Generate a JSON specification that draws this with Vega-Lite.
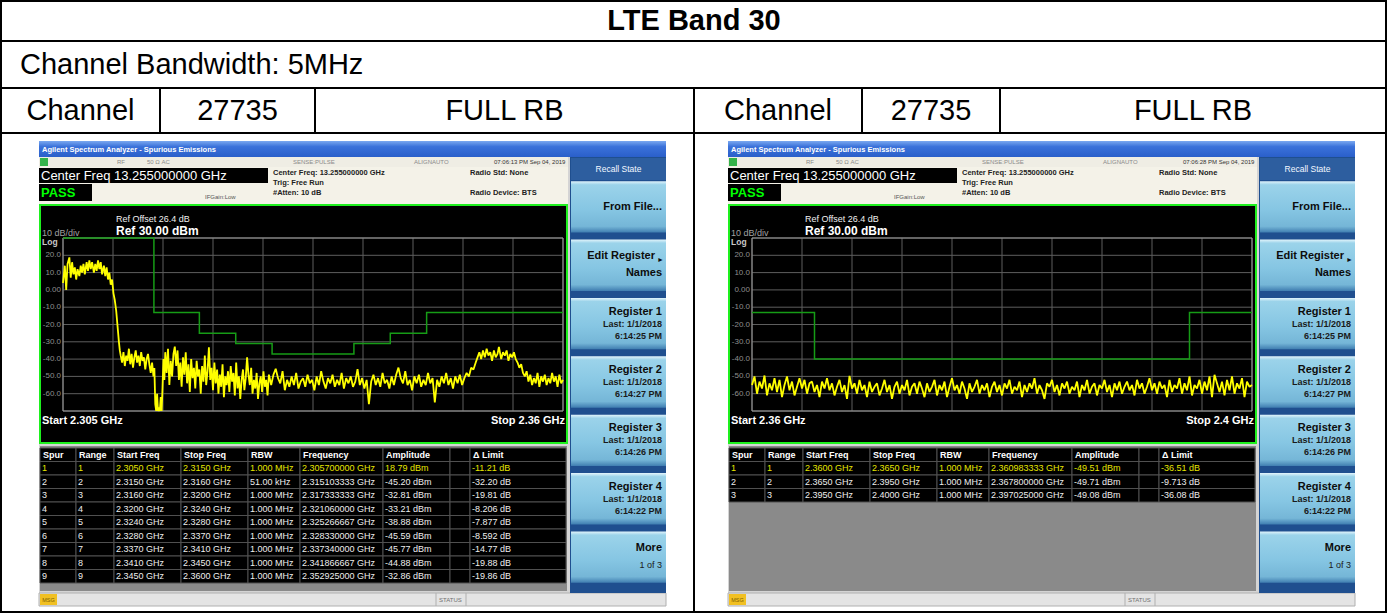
{
"$schema":"https://vega.github.io/schema/vega-lite/v6.json",
"width":1388,"height":613,"padding":0,"autosize":{"type":"none"},
"background":"#ffffff",
"config":{"view":{"stroke":null},"axis":{"disable":true},"legend":{"disable":true},"font":"Liberation Sans","text":{"font":"Liberation Sans"}},
"datasets":{
"docCells":[{"r0":0,"r1":1,"c0":0,"c1":6},{"r0":1,"r1":2,"c0":0,"c1":6},{"r0":2,"r1":3,"c0":0,"c1":1},{"r0":2,"r1":3,"c0":1,"c1":2},{"r0":2,"r1":3,"c0":2,"c1":3},{"r0":2,"r1":3,"c0":3,"c1":4},{"r0":2,"r1":3,"c0":4,"c1":5},{"r0":2,"r1":3,"c0":5,"c1":6},{"r0":3,"r1":4,"c0":0,"c1":3},{"r0":3,"r1":4,"c0":3,"c1":6}],
"docHdr":[{"cell":0,"text":"Channel"},{"cell":1,"text":"27735"},{"cell":2,"text":"FULL RB"},{"cell":3,"text":"Channel"},{"cell":4,"text":"27735"},{"cell":5,"text":"FULL RB"}],
"gridDb":[{"db":30},{"db":20},{"db":10},{"db":0},{"db":-10},{"db":-20},{"db":-30},{"db":-40},{"db":-50},{"db":-60},{"db":-70}],
"dbLabels":[{"db":20,"label":"20.0"},{"db":10,"label":"10.0"},{"db":0,"label":"0.00"},{"db":-10,"label":"-10.0"},{"db":-20,"label":"-20.0"},{"db":-30,"label":"-30.0"},{"db":-40,"label":"-40.0"},{"db":-50,"label":"-50.0"},{"db":-60,"label":"-60.0"}],
"gridFreqL":[{"f":2.305},{"f":2.3105},{"f":2.316},{"f":2.3215},{"f":2.327},{"f":2.3325},{"f":2.338},{"f":2.3435},{"f":2.349},{"f":2.3545},{"f":2.36}],
"gridFreqR":[{"f":2.36},{"f":2.364},{"f":2.368},{"f":2.372},{"f":2.376},{"f":2.38},{"f":2.384},{"f":2.388},{"f":2.392},{"f":2.396},{"f":2.4}],
"limitL":[{"f":2.305,"lim":30},{"f":2.315,"lim":-13},{"f":2.32,"lim":-25},{"f":2.324,"lim":-31},{"f":2.328,"lim":-37},{"f":2.337,"lim":-31},{"f":2.341,"lim":-25},{"f":2.345,"lim":-13},{"f":2.36,"lim":-13}],
"limitR":[{"f":2.36,"lim":-13},{"f":2.365,"lim":-40},{"f":2.395,"lim":-13},{"f":2.4,"lim":-13}],
"traceL":[{"f":2.305,"dbm":4},{"f":2.3052,"dbm":14},{"f":2.30535,"dbm":0},{"f":2.3055,"dbm":15},{"f":2.3057,"dbm":18.8},{"f":2.30585,"dbm":7},{"f":2.306,"dbm":16},{"f":2.30615,"dbm":9},{"f":2.3063,"dbm":13},{"f":2.30645,"dbm":6},{"f":2.3066,"dbm":12},{"f":2.3068,"dbm":8},{"f":2.30695,"dbm":14},{"f":2.3071,"dbm":10},{"f":2.30725,"dbm":15},{"f":2.3074,"dbm":9},{"f":2.3076,"dbm":16},{"f":2.30775,"dbm":11},{"f":2.3079,"dbm":17},{"f":2.30805,"dbm":12},{"f":2.3082,"dbm":16},{"f":2.3084,"dbm":10},{"f":2.30855,"dbm":15},{"f":2.3087,"dbm":11},{"f":2.30885,"dbm":17},{"f":2.309,"dbm":12},{"f":2.30915,"dbm":16},{"f":2.3093,"dbm":9},{"f":2.3095,"dbm":14},{"f":2.30965,"dbm":8},{"f":2.3098,"dbm":13},{"f":2.30995,"dbm":6},{"f":2.3101,"dbm":10},{"f":2.31025,"dbm":3},{"f":2.3104,"dbm":6},{"f":2.31055,"dbm":-2},{"f":2.3107,"dbm":-6},{"f":2.31085,"dbm":-12},{"f":2.31095,"dbm":-18},{"f":2.31105,"dbm":-24},{"f":2.31115,"dbm":-30},{"f":2.31125,"dbm":-35},{"f":2.31135,"dbm":-38},
{"f":2.3115,"dbm":-42},{"f":2.31165,"dbm":-36},{"f":2.3118,"dbm":-44},{"f":2.31195,"dbm":-38},{"f":2.3121,"dbm":-41},{"f":2.31225,"dbm":-34},{"f":2.3124,"dbm":-43},{"f":2.31255,"dbm":-37},{"f":2.3127,"dbm":-45},{"f":2.31285,"dbm":-39},{"f":2.313,"dbm":-35},{"f":2.31315,"dbm":-42},{"f":2.3133,"dbm":-38},{"f":2.31345,"dbm":-44},{"f":2.3136,"dbm":-36},{"f":2.31375,"dbm":-41},{"f":2.3139,"dbm":-39},{"f":2.31405,"dbm":-46},{"f":2.3142,"dbm":-40},{"f":2.31435,"dbm":-37},{"f":2.3145,"dbm":-43},{"f":2.31465,"dbm":-48},{"f":2.3148,"dbm":-42},
{"f":2.31495,"dbm":-50},{"f":2.31505,"dbm":-45.2},{"f":2.31515,"dbm":-66},{"f":2.31525,"dbm":-70},{"f":2.31535,"dbm":-60},{"f":2.31545,"dbm":-70},{"f":2.31555,"dbm":-68},{"f":2.31565,"dbm":-70},{"f":2.31575,"dbm":-62},{"f":2.31585,"dbm":-70},{"f":2.31595,"dbm":-56},
{"f":2.31605,"dbm":-40},{"f":2.31615,"dbm":-52},{"f":2.31625,"dbm":-36},{"f":2.3164,"dbm":-48},{"f":2.31655,"dbm":-34},{"f":2.3167,"dbm":-55},{"f":2.31685,"dbm":-41},{"f":2.317,"dbm":-50},{"f":2.31715,"dbm":-37},{"f":2.3173,"dbm":-32.8},{"f":2.31745,"dbm":-44},{"f":2.3176,"dbm":-35},{"f":2.31775,"dbm":-52},{"f":2.3179,"dbm":-42},{"f":2.31805,"dbm":-56},{"f":2.3182,"dbm":-39},{"f":2.31835,"dbm":-49},{"f":2.3185,"dbm":-36},{"f":2.31865,"dbm":-54},{"f":2.3188,"dbm":-43},{"f":2.31895,"dbm":-59},{"f":2.3191,"dbm":-40},{"f":2.31925,"dbm":-51},{"f":2.3194,"dbm":-45},{"f":2.31955,"dbm":-57},{"f":2.3197,"dbm":-41},{"f":2.31985,"dbm":-50},{"f":2.32,"dbm":-46},{"f":2.32015,"dbm":-60},{"f":2.3203,"dbm":-44},{"f":2.32045,"dbm":-53},{"f":2.3206,"dbm":-38},{"f":2.32075,"dbm":-55},{"f":2.3209,"dbm":-47},{"f":2.32105,"dbm":-33.2},{"f":2.3212,"dbm":-52},{"f":2.32135,"dbm":-45},{"f":2.3215,"dbm":-58},{"f":2.32165,"dbm":-42},
{"f":2.3218,"dbm":-54},{"f":2.32195,"dbm":-46},{"f":2.3221,"dbm":-60},{"f":2.32225,"dbm":-49},{"f":2.3224,"dbm":-56},{"f":2.32255,"dbm":-43},{"f":2.3227,"dbm":-62},{"f":2.32285,"dbm":-50},{"f":2.323,"dbm":-55},{"f":2.32315,"dbm":-47},{"f":2.3233,"dbm":-59},{"f":2.32345,"dbm":-44},{"f":2.3236,"dbm":-53},{"f":2.32375,"dbm":-48},{"f":2.3239,"dbm":-61},{"f":2.32405,"dbm":-42},{"f":2.3242,"dbm":-57},{"f":2.32435,"dbm":-50},{"f":2.3245,"dbm":-63},{"f":2.32465,"dbm":-52},{"f":2.3248,"dbm":-46},{"f":2.32495,"dbm":-58},{"f":2.3251,"dbm":-51},{"f":2.32525,"dbm":-38.9},{"f":2.3254,"dbm":-49},{"f":2.32555,"dbm":-55},{"f":2.3257,"dbm":-45},{"f":2.32585,"dbm":-60},{"f":2.326,"dbm":-52},{"f":2.32615,"dbm":-57},{"f":2.3263,"dbm":-48},{"f":2.32645,"dbm":-63},{"f":2.3266,"dbm":-54},{"f":2.32675,"dbm":-50},{"f":2.3269,"dbm":-59},{"f":2.32705,"dbm":-47},{"f":2.3272,"dbm":-56},{"f":2.32735,"dbm":-52},{"f":2.3275,"dbm":-61},{"f":2.32765,"dbm":-49},
{"f":2.3279,"dbm":-55},{"f":2.32815,"dbm":-49},{"f":2.3284,"dbm":-45.6},{"f":2.32865,"dbm":-51},{"f":2.3289,"dbm":-54},{"f":2.32915,"dbm":-47},{"f":2.3294,"dbm":-58},{"f":2.32965,"dbm":-52},{"f":2.3299,"dbm":-56},{"f":2.33015,"dbm":-50},{"f":2.3304,"dbm":-55},{"f":2.33065,"dbm":-48},{"f":2.3309,"dbm":-57},{"f":2.33115,"dbm":-53},{"f":2.3314,"dbm":-51},{"f":2.33165,"dbm":-56},{"f":2.3319,"dbm":-49},{"f":2.33215,"dbm":-54},{"f":2.3324,"dbm":-52},{"f":2.33265,"dbm":-58},{"f":2.3329,"dbm":-50},{"f":2.33315,"dbm":-55},{"f":2.3334,"dbm":-47},{"f":2.33365,"dbm":-53},{"f":2.3339,"dbm":-57},{"f":2.33415,"dbm":-51},{"f":2.3344,"dbm":-54},{"f":2.33465,"dbm":-49},{"f":2.3349,"dbm":-56},{"f":2.33515,"dbm":-52},{"f":2.3354,"dbm":-55},{"f":2.33565,"dbm":-48},{"f":2.3359,"dbm":-57},{"f":2.33615,"dbm":-51},{"f":2.3364,"dbm":-54},{"f":2.33665,"dbm":-50},{"f":2.3369,"dbm":-56},{"f":2.33715,"dbm":-53},{"f":2.3374,"dbm":-45.8},{"f":2.33765,"dbm":-55},{"f":2.3379,"dbm":-51},{"f":2.33815,"dbm":-57},{"f":2.3384,"dbm":-52},{"f":2.33865,"dbm":-66},{"f":2.3389,"dbm":-53},{"f":2.33915,"dbm":-49},{"f":2.3394,"dbm":-55},{"f":2.33965,"dbm":-51},{"f":2.3399,"dbm":-56},{"f":2.34015,"dbm":-48},{"f":2.3404,"dbm":-54},{"f":2.34065,"dbm":-52},{"f":2.3409,"dbm":-57},{"f":2.34115,"dbm":-50},{"f":2.3414,"dbm":-55},{"f":2.34165,"dbm":-49},{"f":2.3419,"dbm":-44.9},{"f":2.34215,"dbm":-51},{"f":2.3424,"dbm":-54},{"f":2.34265,"dbm":-47},{"f":2.3429,"dbm":-55},{"f":2.34315,"dbm":-52},{"f":2.3434,"dbm":-58},{"f":2.34365,"dbm":-50},{"f":2.3439,"dbm":-54},{"f":2.34415,"dbm":-49},{"f":2.3444,"dbm":-56},{"f":2.34465,"dbm":-52},{"f":2.3449,"dbm":-55},{"f":2.34515,"dbm":-48},{"f":2.3454,"dbm":-54},{"f":2.34565,"dbm":-51},{"f":2.3459,"dbm":-65},{"f":2.34615,"dbm":-52},{"f":2.3464,"dbm":-56},{"f":2.34665,"dbm":-50},{"f":2.3469,"dbm":-54},{"f":2.34715,"dbm":-48},{"f":2.3474,"dbm":-55},{"f":2.34765,"dbm":-51},{"f":2.3479,"dbm":-57},{"f":2.34815,"dbm":-50},{"f":2.3484,"dbm":-54},{"f":2.34865,"dbm":-49},{"f":2.3489,"dbm":-55},
{"f":2.34915,"dbm":-51},{"f":2.3494,"dbm":-48},{"f":2.34965,"dbm":-50},{"f":2.3499,"dbm":-45},{"f":2.35015,"dbm":-46},{"f":2.3504,"dbm":-42},{"f":2.3506,"dbm":-39},{"f":2.3508,"dbm":-36},{"f":2.351,"dbm":-40},{"f":2.3512,"dbm":-35},{"f":2.3514,"dbm":-39},{"f":2.3516,"dbm":-34},{"f":2.3518,"dbm":-38},{"f":2.352,"dbm":-36},{"f":2.3522,"dbm":-41},{"f":2.3524,"dbm":-35},{"f":2.3526,"dbm":-39},{"f":2.3528,"dbm":-37},{"f":2.35295,"dbm":-32.9},{"f":2.3532,"dbm":-40},{"f":2.3534,"dbm":-36},{"f":2.3536,"dbm":-38},{"f":2.3538,"dbm":-35},{"f":2.354,"dbm":-41},{"f":2.3542,"dbm":-37},{"f":2.3544,"dbm":-39},{"f":2.3546,"dbm":-36},{"f":2.3548,"dbm":-40},{"f":2.355,"dbm":-42},{"f":2.3552,"dbm":-45},{"f":2.3554,"dbm":-43},{"f":2.3556,"dbm":-48},{"f":2.3558,"dbm":-50},{"f":2.356,"dbm":-47},
{"f":2.3562,"dbm":-53},{"f":2.3564,"dbm":-49},{"f":2.3566,"dbm":-55},{"f":2.3568,"dbm":-51},{"f":2.357,"dbm":-54},{"f":2.3572,"dbm":-48},{"f":2.3574,"dbm":-56},{"f":2.3576,"dbm":-50},{"f":2.3578,"dbm":-53},{"f":2.358,"dbm":-49},{"f":2.3582,"dbm":-55},{"f":2.3584,"dbm":-51},{"f":2.3586,"dbm":-54},{"f":2.3588,"dbm":-48},{"f":2.359,"dbm":-53},{"f":2.3592,"dbm":-50},{"f":2.3594,"dbm":-56},{"f":2.3596,"dbm":-49},{"f":2.3598,"dbm":-54},{"f":2.36,"dbm":-52}],
"traceR":[{"f":2.36,"dbm":-55},{"f":2.3602,"dbm":-50},{"f":2.3604,"dbm":-60},{"f":2.3606,"dbm":-53},{"f":2.3608,"dbm":-57},{"f":2.361,"dbm":-49.5},{"f":2.3612,"dbm":-61},{"f":2.3614,"dbm":-54},{"f":2.3616,"dbm":-58},{"f":2.3618,"dbm":-51},
{"f":2.362,"dbm":-59},{"f":2.3622,"dbm":-52},{"f":2.3624,"dbm":-62},{"f":2.3626,"dbm":-55},{"f":2.3628,"dbm":-50},{"f":2.363,"dbm":-58},{"f":2.3632,"dbm":-53},{"f":2.3634,"dbm":-61},{"f":2.3636,"dbm":-56},{"f":2.3638,"dbm":-51},
{"f":2.364,"dbm":-57},{"f":2.3642,"dbm":-52},{"f":2.3644,"dbm":-60},{"f":2.3646,"dbm":-54},{"f":2.3648,"dbm":-53},{"f":2.365,"dbm":-59},{"f":2.3652,"dbm":-55},{"f":2.3654,"dbm":-62},{"f":2.3656,"dbm":-53},{"f":2.3658,"dbm":-57},
{"f":2.366,"dbm":-51},{"f":2.3662,"dbm":-58},{"f":2.3664,"dbm":-54},{"f":2.3666,"dbm":-61},{"f":2.3668,"dbm":-56},{"f":2.367,"dbm":-52},{"f":2.3672,"dbm":-59},{"f":2.3674,"dbm":-55},{"f":2.3676,"dbm":-63},{"f":2.3678,"dbm":-49.7},
{"f":2.368,"dbm":-57},{"f":2.3682,"dbm":-54},{"f":2.3684,"dbm":-60},{"f":2.3686,"dbm":-52},{"f":2.3688,"dbm":-58},{"f":2.369,"dbm":-55},{"f":2.3692,"dbm":-62},{"f":2.3694,"dbm":-53},{"f":2.3696,"dbm":-59},{"f":2.3698,"dbm":-56},
{"f":2.37,"dbm":-54},{"f":2.3702,"dbm":-61},{"f":2.3704,"dbm":-57},{"f":2.3706,"dbm":-52},{"f":2.3708,"dbm":-59},{"f":2.371,"dbm":-55},{"f":2.3712,"dbm":-63},{"f":2.3714,"dbm":-56},{"f":2.3716,"dbm":-53},{"f":2.3718,"dbm":-60},
{"f":2.372,"dbm":-55},{"f":2.3722,"dbm":-58},{"f":2.3724,"dbm":-52},{"f":2.3726,"dbm":-61},{"f":2.3728,"dbm":-56},{"f":2.373,"dbm":-54},{"f":2.3732,"dbm":-60},{"f":2.3734,"dbm":-53},{"f":2.3736,"dbm":-57},{"f":2.3738,"dbm":-62},
{"f":2.374,"dbm":-54},{"f":2.3742,"dbm":-59},{"f":2.3744,"dbm":-56},{"f":2.3746,"dbm":-52},{"f":2.3748,"dbm":-61},{"f":2.375,"dbm":-55},{"f":2.3752,"dbm":-58},{"f":2.3754,"dbm":-53},{"f":2.3756,"dbm":-62},{"f":2.3758,"dbm":-56},
{"f":2.376,"dbm":-51},{"f":2.3762,"dbm":-58},{"f":2.3764,"dbm":-55},{"f":2.3766,"dbm":-60},{"f":2.3768,"dbm":-53},{"f":2.377,"dbm":-57},{"f":2.3772,"dbm":-63},{"f":2.3774,"dbm":-54},{"f":2.3776,"dbm":-59},{"f":2.3778,"dbm":-56},
{"f":2.378,"dbm":-52},{"f":2.3782,"dbm":-60},{"f":2.3784,"dbm":-55},{"f":2.3786,"dbm":-58},{"f":2.3788,"dbm":-54},{"f":2.379,"dbm":-62},{"f":2.3792,"dbm":-56},{"f":2.3794,"dbm":-53},{"f":2.3796,"dbm":-59},{"f":2.3798,"dbm":-55},
{"f":2.38,"dbm":-61},{"f":2.3802,"dbm":-54},{"f":2.3804,"dbm":-57},{"f":2.3806,"dbm":-52},{"f":2.3808,"dbm":-60},{"f":2.381,"dbm":-56},{"f":2.3812,"dbm":-58},{"f":2.3814,"dbm":-53},{"f":2.3816,"dbm":-62},{"f":2.3818,"dbm":-55},
{"f":2.382,"dbm":-59},{"f":2.3822,"dbm":-54},{"f":2.3824,"dbm":-57},{"f":2.3826,"dbm":-51},{"f":2.3828,"dbm":-60},{"f":2.383,"dbm":-55},{"f":2.3832,"dbm":-58},{"f":2.3834,"dbm":-63},{"f":2.3836,"dbm":-54},{"f":2.3838,"dbm":-56},
{"f":2.384,"dbm":-52},{"f":2.3842,"dbm":-59},{"f":2.3844,"dbm":-55},{"f":2.3846,"dbm":-61},{"f":2.3848,"dbm":-54},{"f":2.385,"dbm":-57},{"f":2.3852,"dbm":-53},{"f":2.3854,"dbm":-60},{"f":2.3856,"dbm":-56},{"f":2.3858,"dbm":-58},
{"f":2.386,"dbm":-53},{"f":2.3862,"dbm":-62},{"f":2.3864,"dbm":-55},{"f":2.3866,"dbm":-58},{"f":2.3868,"dbm":-52},{"f":2.387,"dbm":-60},{"f":2.3872,"dbm":-56},{"f":2.3874,"dbm":-54},{"f":2.3876,"dbm":-61},{"f":2.3878,"dbm":-55},
{"f":2.388,"dbm":-57},{"f":2.3882,"dbm":-52},{"f":2.3884,"dbm":-59},{"f":2.3886,"dbm":-55},{"f":2.3888,"dbm":-62},{"f":2.389,"dbm":-54},{"f":2.3892,"dbm":-58},{"f":2.3894,"dbm":-53},{"f":2.3896,"dbm":-60},{"f":2.3898,"dbm":-56},
{"f":2.39,"dbm":-53},{"f":2.3902,"dbm":-58},{"f":2.3904,"dbm":-55},{"f":2.3906,"dbm":-61},{"f":2.3908,"dbm":-52},{"f":2.391,"dbm":-57},{"f":2.3912,"dbm":-54},{"f":2.3914,"dbm":-60},{"f":2.3916,"dbm":-56},{"f":2.3918,"dbm":-51},
{"f":2.392,"dbm":-58},{"f":2.3922,"dbm":-54},{"f":2.3924,"dbm":-60},{"f":2.3926,"dbm":-53},{"f":2.3928,"dbm":-57},{"f":2.393,"dbm":-55},{"f":2.3932,"dbm":-62},{"f":2.3934,"dbm":-52},{"f":2.3936,"dbm":-59},{"f":2.3938,"dbm":-55},
{"f":2.394,"dbm":-57},{"f":2.3942,"dbm":-51},{"f":2.3944,"dbm":-60},{"f":2.3946,"dbm":-54},{"f":2.3948,"dbm":-58},{"f":2.395,"dbm":-50},{"f":2.3952,"dbm":-61},{"f":2.3954,"dbm":-55},{"f":2.3956,"dbm":-57},{"f":2.3958,"dbm":-52},
{"f":2.396,"dbm":-60},{"f":2.3962,"dbm":-53},{"f":2.3964,"dbm":-58},{"f":2.3966,"dbm":-50},{"f":2.3968,"dbm":-62},{"f":2.397,"dbm":-49.1},{"f":2.3972,"dbm":-54},{"f":2.3974,"dbm":-59},{"f":2.3976,"dbm":-53},{"f":2.3978,"dbm":-61},
{"f":2.398,"dbm":-52},{"f":2.3982,"dbm":-58},{"f":2.3984,"dbm":-50},{"f":2.3986,"dbm":-60},{"f":2.3988,"dbm":-54},{"f":2.399,"dbm":-57},{"f":2.3992,"dbm":-51},{"f":2.3994,"dbm":-62},{"f":2.3996,"dbm":-53},{"f":2.3998,"dbm":-56},{"f":2.4,"dbm":-55}],
"columns":[{"row":"hdr","col":"Spur","label":"Spur","i0":0,"i1":1},{"row":"hdr","col":"Range","label":"Range","i0":1,"i1":2},{"row":"hdr","col":"Start Freq","label":"Start Freq","i0":2,"i1":3},{"row":"hdr","col":"Stop Freq","label":"Stop Freq","i0":3,"i1":4},{"row":"hdr","col":"RBW","label":"RBW","i0":4,"i1":5},{"row":"hdr","col":"Frequency","label":"Frequency","i0":5,"i1":6},{"row":"hdr","col":"Amplitude","label":"Amplitude","i0":6,"i1":7},{"row":"hdr","col":"Blank","label":"","i0":7,"i1":8},{"row":"hdr","col":"Δ Limit","label":"Δ Limit","i0":8,"i1":9}],
"spursL":[
{"Spur":"1","Range":"1","Start Freq":"2.3050 GHz","Stop Freq":"2.3150 GHz","RBW":"1.000 MHz","Frequency":"2.305700000 GHz","Amplitude":"18.79 dBm","Blank":"","Δ Limit":"-11.21 dB"},
{"Spur":"2","Range":"2","Start Freq":"2.3150 GHz","Stop Freq":"2.3160 GHz","RBW":"51.00 kHz","Frequency":"2.315103333 GHz","Amplitude":"-45.20 dBm","Blank":"","Δ Limit":"-32.20 dB"},
{"Spur":"3","Range":"3","Start Freq":"2.3160 GHz","Stop Freq":"2.3200 GHz","RBW":"1.000 MHz","Frequency":"2.317333333 GHz","Amplitude":"-32.81 dBm","Blank":"","Δ Limit":"-19.81 dB"},
{"Spur":"4","Range":"4","Start Freq":"2.3200 GHz","Stop Freq":"2.3240 GHz","RBW":"1.000 MHz","Frequency":"2.321060000 GHz","Amplitude":"-33.21 dBm","Blank":"","Δ Limit":"-8.206 dB"},
{"Spur":"5","Range":"5","Start Freq":"2.3240 GHz","Stop Freq":"2.3280 GHz","RBW":"1.000 MHz","Frequency":"2.325266667 GHz","Amplitude":"-38.88 dBm","Blank":"","Δ Limit":"-7.877 dB"},
{"Spur":"6","Range":"6","Start Freq":"2.3280 GHz","Stop Freq":"2.3370 GHz","RBW":"1.000 MHz","Frequency":"2.328330000 GHz","Amplitude":"-45.59 dBm","Blank":"","Δ Limit":"-8.592 dB"},
{"Spur":"7","Range":"7","Start Freq":"2.3370 GHz","Stop Freq":"2.3410 GHz","RBW":"1.000 MHz","Frequency":"2.337340000 GHz","Amplitude":"-45.77 dBm","Blank":"","Δ Limit":"-14.77 dB"},
{"Spur":"8","Range":"8","Start Freq":"2.3410 GHz","Stop Freq":"2.3450 GHz","RBW":"1.000 MHz","Frequency":"2.341866667 GHz","Amplitude":"-44.88 dBm","Blank":"","Δ Limit":"-19.88 dB"},
{"Spur":"9","Range":"9","Start Freq":"2.3450 GHz","Stop Freq":"2.3600 GHz","RBW":"1.000 MHz","Frequency":"2.352925000 GHz","Amplitude":"-32.86 dBm","Blank":"","Δ Limit":"-19.86 dB"}],
"spursR":[
{"Spur":"1","Range":"1","Start Freq":"2.3600 GHz","Stop Freq":"2.3650 GHz","RBW":"1.000 MHz","Frequency":"2.360983333 GHz","Amplitude":"-49.51 dBm","Blank":"","Δ Limit":"-36.51 dB"},
{"Spur":"2","Range":"2","Start Freq":"2.3650 GHz","Stop Freq":"2.3950 GHz","RBW":"1.000 MHz","Frequency":"2.367800000 GHz","Amplitude":"-49.71 dBm","Blank":"","Δ Limit":"-9.713 dB"},
{"Spur":"3","Range":"3","Start Freq":"2.3950 GHz","Stop Freq":"2.4000 GHz","RBW":"1.000 MHz","Frequency":"2.397025000 GHz","Amplitude":"-49.08 dBm","Blank":"","Δ Limit":"-36.08 dB"}],
"buttons":[{"btn":"From File..."},{"btn":"Edit Register Names"},{"btn":"Register 1"},{"btn":"Register 2"},{"btn":"Register 3"},{"btn":"Register 4"},{"btn":"More"}]
},
"resolve":{"scale":{"x":"independent","y":"independent"}},
"layer":[
{"layer":[
 {"data":{"name":"docCells"},"mark":{"type":"rect","fill":"transparent","stroke":"#000000","strokeWidth":2},
  "encoding":{"x":{"field":"c0","type":"quantitative","scale":{"domain":[0,1,2,3,4,5,6],"range":[1,160,315,694,862,1000,1386]}},"x2":{"field":"c1"},"y":{"field":"r0","type":"quantitative","scale":{"domain":[0,1,2,3,4],"range":[1,41,88,133,612]}},"y2":{"field":"r1"}}},
 {"data":{"values":[{"t":"LTE Band 30"}]},"mark":{"type":"text","fontSize":29,"fontWeight":"bold","color":"#000000","baseline":"middle","align":"center"},
  "encoding":{"x":{"datum":3,"type":"quantitative","scale":{"domain":[0,1,2,3,4,5,6],"range":[1,160,315,694,862,1000,1386]}},"y":{"datum":0.5,"type":"quantitative","scale":{"domain":[0,1,2,3,4],"range":[1,41,88,133,612]}},"text":{"field":"t"}}},
 {"data":{"values":[{"t":"Channel Bandwidth: 5MHz"}]},"mark":{"type":"text","fontSize":29,"color":"#000000","baseline":"middle","align":"left","dx":19},
  "encoding":{"x":{"datum":0,"type":"quantitative","scale":{"domain":[0,1,2,3,4,5,6],"range":[1,160,315,694,862,1000,1386]}},"y":{"datum":1.5,"type":"quantitative","scale":{"domain":[0,1,2,3,4],"range":[1,41,88,133,612]}},"text":{"field":"t"}}}
]},
{"data":{"name":"docHdr"},"mark":{"type":"text","fontSize":29,"color":"#000000","baseline":"middle","align":"center"},
 "encoding":{"x":{"field":"cell","type":"quantitative","scale":{"domain":[0,1,2,3,4,5],"range":[80.5,237.5,504.5,778,931,1193]}},"y":{"datum":0.5,"type":"quantitative","scale":{"domain":[0,1],"range":[88,133]}},"text":{"field":"text"}}},

{"layer":[
 {"data":{"values":[{}]},"mark":{"type":"rect","fill":"#d4d4d4"},"encoding":{"x":{"datum":0,"type":"quantitative","scale":{"domain":[0,627],"range":[39,666]}},"x2":{"datum":627},"y":{"datum":0,"type":"quantitative","scale":{"domain":[0,465],"range":[141,606]}},"y2":{"datum":465}}},
 {"data":{"values":[{}]},"mark":{"type":"rect","fill":{"gradient":"linear","x1":0,"y1":0,"x2":0,"y2":1,"stops":[{"offset":0,"color":"#7aa8f0"},{"offset":0.35,"color":"#3b72da"},{"offset":1,"color":"#2a5fca"}]}},"encoding":{"x":{"datum":0,"type":"quantitative","scale":{"domain":[0,627],"range":[39,666]}},"x2":{"datum":627},"y":{"datum":0,"type":"quantitative","scale":{"domain":[0,465],"range":[141,606]}},"y2":{"datum":16}}},
 {"data":{"values":[{"t":"Agilent Spectrum Analyzer - Spurious Emissions"}]},"mark":{"type":"text","align":"left","baseline":"middle","fontSize":7.5,"fontWeight":"bold","color":"#ffffff"},"encoding":{"x":{"datum":3,"type":"quantitative","scale":{"domain":[0,627],"range":[39,666]}},"y":{"datum":8.5,"type":"quantitative","scale":{"domain":[0,465],"range":[141,606]}},"text":{"field":"t"}}},
 {"data":{"values":[{}]},"mark":{"type":"rect","fill":"#efede4"},"encoding":{"x":{"datum":0,"type":"quantitative","scale":{"domain":[0,627],"range":[39,666]}},"x2":{"datum":529},"y":{"datum":16,"type":"quantitative","scale":{"domain":[0,465],"range":[141,606]}},"y2":{"datum":26}}},
 {"data":{"values":[{}]},"mark":{"type":"rect","fill":"#34b34a"},"encoding":{"x":{"datum":1,"type":"quantitative","scale":{"domain":[0,627],"range":[39,666]}},"x2":{"datum":9},"y":{"datum":17,"type":"quantitative","scale":{"domain":[0,465],"range":[141,606]}},"y2":{"datum":25}}},
 {"data":{"values":[{"t":"RF"}]},"mark":{"type":"text","align":"left","baseline":"middle","fontSize":6,"color":"#8a8a8a"},"encoding":{"x":{"datum":78,"type":"quantitative","scale":{"domain":[0,627],"range":[39,666]}},"y":{"datum":21,"type":"quantitative","scale":{"domain":[0,465],"range":[141,606]}},"text":{"field":"t"}}},
 {"data":{"values":[{"t":"50 Ω      AC"}]},"mark":{"type":"text","align":"left","baseline":"middle","fontSize":6,"color":"#8a8a8a"},"encoding":{"x":{"datum":108,"type":"quantitative","scale":{"domain":[0,627],"range":[39,666]}},"y":{"datum":21,"type":"quantitative","scale":{"domain":[0,465],"range":[141,606]}},"text":{"field":"t"}}},
 {"data":{"values":[{"t":"SENSE:PULSE"}]},"mark":{"type":"text","align":"left","baseline":"middle","fontSize":6,"color":"#8a8a8a"},"encoding":{"x":{"datum":254,"type":"quantitative","scale":{"domain":[0,627],"range":[39,666]}},"y":{"datum":21,"type":"quantitative","scale":{"domain":[0,465],"range":[141,606]}},"text":{"field":"t"}}},
 {"data":{"values":[{"t":"ALIGNAUTO"}]},"mark":{"type":"text","align":"left","baseline":"middle","fontSize":6,"color":"#8a8a8a"},"encoding":{"x":{"datum":375,"type":"quantitative","scale":{"domain":[0,627],"range":[39,666]}},"y":{"datum":21,"type":"quantitative","scale":{"domain":[0,465],"range":[141,606]}},"text":{"field":"t"}}},
 {"data":{"values":[{"t":"07:06:13 PM Sep 04, 2019"}]},"mark":{"type":"text","align":"left","baseline":"middle","fontSize":6,"color":"#333333"},"encoding":{"x":{"datum":455,"type":"quantitative","scale":{"domain":[0,627],"range":[39,666]}},"y":{"datum":21,"type":"quantitative","scale":{"domain":[0,465],"range":[141,606]}},"text":{"field":"t"}}},
 {"data":{"values":[{}]},"mark":{"type":"rect","fill":"#f4f2e8"},"encoding":{"x":{"datum":0,"type":"quantitative","scale":{"domain":[0,627],"range":[39,666]}},"x2":{"datum":529},"y":{"datum":26,"type":"quantitative","scale":{"domain":[0,465],"range":[141,606]}},"y2":{"datum":63}}},
 {"data":{"values":[{}]},"mark":{"type":"rect","fill":"#000000"},"encoding":{"x":{"datum":0,"type":"quantitative","scale":{"domain":[0,627],"range":[39,666]}},"x2":{"datum":229},"y":{"datum":27,"type":"quantitative","scale":{"domain":[0,465],"range":[141,606]}},"y2":{"datum":42}}},
 {"data":{"values":[{"t":"Center Freq 13.255000000 GHz"}]},"mark":{"type":"text","align":"left","baseline":"middle","fontSize":13,"color":"#ffffff"},"encoding":{"x":{"datum":2,"type":"quantitative","scale":{"domain":[0,627],"range":[39,666]}},"y":{"datum":34.5,"type":"quantitative","scale":{"domain":[0,465],"range":[141,606]}},"text":{"field":"t"}}},
 {"data":{"values":[{}]},"mark":{"type":"rect","fill":"#000000"},"encoding":{"x":{"datum":0,"type":"quantitative","scale":{"domain":[0,627],"range":[39,666]}},"x2":{"datum":53},"y":{"datum":43,"type":"quantitative","scale":{"domain":[0,465],"range":[141,606]}},"y2":{"datum":60}}},
 {"data":{"values":[{"t":"PASS"}]},"mark":{"type":"text","align":"left","baseline":"middle","fontSize":13,"fontWeight":"bold","color":"#00ff00"},"encoding":{"x":{"datum":2,"type":"quantitative","scale":{"domain":[0,627],"range":[39,666]}},"y":{"datum":51.5,"type":"quantitative","scale":{"domain":[0,465],"range":[141,606]}},"text":{"field":"t"}}},
 {"data":{"values":[{"t":"IFGain:Low"}]},"mark":{"type":"text","align":"left","baseline":"middle","fontSize":6,"color":"#555555"},"encoding":{"x":{"datum":166,"type":"quantitative","scale":{"domain":[0,627],"range":[39,666]}},"y":{"datum":56,"type":"quantitative","scale":{"domain":[0,465],"range":[141,606]}},"text":{"field":"t"}}},
 {"data":{"values":[{"t":"Center Freq: 13.255000000 GHz"}]},"mark":{"type":"text","align":"left","baseline":"middle","fontSize":7.5,"fontWeight":"bold","color":"#222222"},"encoding":{"x":{"datum":234,"type":"quantitative","scale":{"domain":[0,627],"range":[39,666]}},"y":{"datum":31.5,"type":"quantitative","scale":{"domain":[0,465],"range":[141,606]}},"text":{"field":"t"}}},
 {"data":{"values":[{"t":"Trig: Free Run"}]},"mark":{"type":"text","align":"left","baseline":"middle","fontSize":7.5,"fontWeight":"bold","color":"#222222"},"encoding":{"x":{"datum":234,"type":"quantitative","scale":{"domain":[0,627],"range":[39,666]}},"y":{"datum":41.5,"type":"quantitative","scale":{"domain":[0,465],"range":[141,606]}},"text":{"field":"t"}}},
 {"data":{"values":[{"t":"#Atten: 10 dB"}]},"mark":{"type":"text","align":"left","baseline":"middle","fontSize":7.5,"fontWeight":"bold","color":"#222222"},"encoding":{"x":{"datum":234,"type":"quantitative","scale":{"domain":[0,627],"range":[39,666]}},"y":{"datum":51.5,"type":"quantitative","scale":{"domain":[0,465],"range":[141,606]}},"text":{"field":"t"}}},
 {"data":{"values":[{"t":"Radio Std: None"}]},"mark":{"type":"text","align":"left","baseline":"middle","fontSize":7.5,"fontWeight":"bold","color":"#222222"},"encoding":{"x":{"datum":431,"type":"quantitative","scale":{"domain":[0,627],"range":[39,666]}},"y":{"datum":31.5,"type":"quantitative","scale":{"domain":[0,465],"range":[141,606]}},"text":{"field":"t"}}},
 {"data":{"values":[{"t":"Radio Device: BTS"}]},"mark":{"type":"text","align":"left","baseline":"middle","fontSize":7.5,"fontWeight":"bold","color":"#222222"},"encoding":{"x":{"datum":431,"type":"quantitative","scale":{"domain":[0,627],"range":[39,666]}},"y":{"datum":52,"type":"quantitative","scale":{"domain":[0,465],"range":[141,606]}},"text":{"field":"t"}}},
 {"data":{"values":[{}]},"mark":{"type":"rect","fill":"#000000","stroke":"#1ef01e","strokeWidth":2},"encoding":{"x":{"datum":1,"type":"quantitative","scale":{"domain":[0,627],"range":[39,666]}},"x2":{"datum":528},"y":{"datum":64,"type":"quantitative","scale":{"domain":[0,465],"range":[141,606]}},"y2":{"datum":302}}},
 {"data":{"values":[{"t":"Ref Offset 26.4 dB"}]},"mark":{"type":"text","align":"left","baseline":"middle","fontSize":9,"color":"#f0f0f0"},"encoding":{"x":{"datum":77,"type":"quantitative","scale":{"domain":[0,627],"range":[39,666]}},"y":{"datum":78,"type":"quantitative","scale":{"domain":[0,465],"range":[141,606]}},"text":{"field":"t"}}},
 {"data":{"values":[{"t":"Ref 30.00 dBm"}]},"mark":{"type":"text","align":"left","baseline":"middle","fontSize":12,"fontWeight":"bold","color":"#ffffff"},"encoding":{"x":{"datum":77,"type":"quantitative","scale":{"domain":[0,627],"range":[39,666]}},"y":{"datum":90,"type":"quantitative","scale":{"domain":[0,465],"range":[141,606]}},"text":{"field":"t"}}},
 {"data":{"values":[{"t":"10 dB/div"}]},"mark":{"type":"text","align":"left","baseline":"middle","fontSize":9,"color":"#a0a0a0"},"encoding":{"x":{"datum":3,"type":"quantitative","scale":{"domain":[0,627],"range":[39,666]}},"y":{"datum":92,"type":"quantitative","scale":{"domain":[0,465],"range":[141,606]}},"text":{"field":"t"}}},
 {"data":{"values":[{"t":"Log"}]},"mark":{"type":"text","align":"left","baseline":"middle","fontSize":8.5,"fontWeight":"bold","color":"#c8c8c8"},"encoding":{"x":{"datum":3,"type":"quantitative","scale":{"domain":[0,627],"range":[39,666]}},"y":{"datum":100.5,"type":"quantitative","scale":{"domain":[0,465],"range":[141,606]}},"text":{"field":"t"}}},
 {"data":{"values":[{"t":"Start  2.305 GHz"}]},"mark":{"type":"text","align":"left","baseline":"middle","fontSize":11,"fontWeight":"bold","color":"#ffffff"},"encoding":{"x":{"datum":3,"type":"quantitative","scale":{"domain":[0,627],"range":[39,666]}},"y":{"datum":280,"type":"quantitative","scale":{"domain":[0,465],"range":[141,606]}},"text":{"field":"t"}}},
 {"data":{"values":[{"t":"Stop 2.36 GHz"}]},"mark":{"type":"text","align":"right","baseline":"middle","fontSize":11,"fontWeight":"bold","color":"#ffffff"},"encoding":{"x":{"datum":526,"type":"quantitative","scale":{"domain":[0,627],"range":[39,666]}},"y":{"datum":280,"type":"quantitative","scale":{"domain":[0,465],"range":[141,606]}},"text":{"field":"t"}}},
 {"data":{"values":[{}]},"mark":{"type":"rect","fill":"#8a8a8a"},"encoding":{"x":{"datum":1,"type":"quantitative","scale":{"domain":[0,627],"range":[39,666]}},"x2":{"datum":528},"y":{"datum":305,"type":"quantitative","scale":{"domain":[0,465],"range":[141,606]}},"y2":{"datum":450}}},
 {"data":{"values":[{}]},"mark":{"type":"rect","fill":"#e4e4e4","stroke":"#b0b0b0","strokeWidth":1},"encoding":{"x":{"datum":0,"type":"quantitative","scale":{"domain":[0,627],"range":[39,666]}},"x2":{"datum":627},"y":{"datum":452,"type":"quantitative","scale":{"domain":[0,465],"range":[141,606]}},"y2":{"datum":465}}},
 {"data":{"values":[{}]},"mark":{"type":"rect","fill":"#f1c022"},"encoding":{"x":{"datum":1,"type":"quantitative","scale":{"domain":[0,627],"range":[39,666]}},"x2":{"datum":18},"y":{"datum":453,"type":"quantitative","scale":{"domain":[0,465],"range":[141,606]}},"y2":{"datum":464}}},
 {"data":{"values":[{"t":"MSG"}]},"mark":{"type":"text","align":"center","baseline":"middle","fontSize":5.5,"color":"#7d5f00"},"encoding":{"x":{"datum":9.5,"type":"quantitative","scale":{"domain":[0,627],"range":[39,666]}},"y":{"datum":458.5,"type":"quantitative","scale":{"domain":[0,465],"range":[141,606]}},"text":{"field":"t"}}},
 {"data":{"values":[{}]},"mark":{"type":"rule","color":"#b0b0b0"},"encoding":{"x":{"datum":397,"type":"quantitative","scale":{"domain":[0,627],"range":[39,666]}},"y":{"datum":452,"type":"quantitative","scale":{"domain":[0,465],"range":[141,606]}},"y2":{"datum":465}}},
 {"data":{"values":[{}]},"mark":{"type":"rule","color":"#b0b0b0"},"encoding":{"x":{"datum":427,"type":"quantitative","scale":{"domain":[0,627],"range":[39,666]}},"y":{"datum":452,"type":"quantitative","scale":{"domain":[0,465],"range":[141,606]}},"y2":{"datum":465}}},
 {"data":{"values":[{"t":"STATUS"}]},"mark":{"type":"text","align":"left","baseline":"middle","fontSize":6,"color":"#707070"},"encoding":{"x":{"datum":400,"type":"quantitative","scale":{"domain":[0,627],"range":[39,666]}},"y":{"datum":458.5,"type":"quantitative","scale":{"domain":[0,465],"range":[141,606]}},"text":{"field":"t"}}},
 {"data":{"values":[{}]},"mark":{"type":"rect","fill":"#1f4f8f"},"encoding":{"x":{"datum":531,"type":"quantitative","scale":{"domain":[0,627],"range":[39,666]}},"x2":{"datum":627},"y":{"datum":16,"type":"quantitative","scale":{"domain":[0,465],"range":[141,606]}},"y2":{"datum":452}}},
 {"data":{"values":[{}]},"mark":{"type":"rect","fill":"#2d5e9f"},"encoding":{"x":{"datum":532,"type":"quantitative","scale":{"domain":[0,627],"range":[39,666]}},"x2":{"datum":627},"y":{"datum":17,"type":"quantitative","scale":{"domain":[0,465],"range":[141,606]}},"y2":{"datum":39}}},
 {"data":{"values":[{"t":"Recall State"}]},"mark":{"type":"text","align":"center","baseline":"middle","fontSize":8.5,"color":"#f4f8ff"},"encoding":{"x":{"datum":579.5,"type":"quantitative","scale":{"domain":[0,627],"range":[39,666]}},"y":{"datum":28,"type":"quantitative","scale":{"domain":[0,465],"range":[141,606]}},"text":{"field":"t"}}}
]},

{"layer":[
 {"data":{"name":"gridFreqL"},"mark":{"type":"rule","color":"#5e5e5e","strokeWidth":1},"encoding":{"x":{"field":"f","type":"quantitative","scale":{"domain":[2.305,2.36],"range":[63,563]}},"y":{"datum":-70,"type":"quantitative","scale":{"domain":[-70,30],"range":[411,238]}},"y2":{"datum":30}}},
 {"data":{"name":"gridDb"},"mark":{"type":"rule","color":"#5e5e5e","strokeWidth":1},"encoding":{"y":{"field":"db","type":"quantitative","scale":{"domain":[-70,30],"range":[411,238]}},"x":{"datum":2.305,"type":"quantitative","scale":{"domain":[2.305,2.36],"range":[63,563]}},"x2":{"datum":2.36}}},
 {"data":{"values":[{}]},"mark":{"type":"rect","fill":"transparent","stroke":"#9a9a9a","strokeWidth":1},"encoding":{"x":{"datum":2.305,"type":"quantitative","scale":{"domain":[2.305,2.36],"range":[63,563]}},"x2":{"datum":2.36},"y":{"datum":-70,"type":"quantitative","scale":{"domain":[-70,30],"range":[411,238]}},"y2":{"datum":30}}},
 {"data":{"name":"dbLabels"},"mark":{"type":"text","align":"right","baseline":"middle","dx":-2,"fontSize":8,"color":"#8f8f8f"},"encoding":{"x":{"datum":2.305,"type":"quantitative","scale":{"domain":[2.305,2.36],"range":[63,563]}},"y":{"field":"db","type":"quantitative","scale":{"domain":[-70,30],"range":[411,238]}},"text":{"field":"label"}}},
 {"data":{"name":"limitL"},"mark":{"type":"line","interpolate":"step-after","color":"#169c16","strokeWidth":1.5},"encoding":{"x":{"field":"f","type":"quantitative","scale":{"domain":[2.305,2.36],"range":[63,563]}},"y":{"field":"lim","type":"quantitative","scale":{"domain":[-70,30],"range":[411,238]}}}},
 {"data":{"name":"traceL"},"mark":{"type":"line","color":"#ffff00","strokeWidth":1.8,"strokeJoin":"bevel"},"encoding":{"x":{"field":"f","type":"quantitative","scale":{"domain":[2.305,2.36],"range":[63,563]}},"y":{"field":"dbm","type":"quantitative","scale":{"domain":[-70,30],"range":[411,238]}}}}
]},

{"layer":[
 {"data":{"name":"columns"},"mark":{"type":"rect","fill":"#000000","stroke":"#505050","strokeWidth":1},"encoding":{"x":{"field":"i0","type":"quantitative","scale":{"domain":[0,1,2,3,4,5,6,7,8,9],"range":[40,76,114,181,248,300,383,450,470,566]}},"x2":{"field":"i1"},"y":{"field":"row","type":"ordinal","scale":{"type":"band","domain":["hdr","1","2","3","4","5","6","7","8","9"],"range":[448,583],"paddingInner":0,"paddingOuter":0}}}},
 {"data":{"name":"columns"},"mark":{"type":"text","align":"left","baseline":"middle","dx":3,"fontSize":9,"fontWeight":"bold","color":"#ffffff"},"encoding":{"x":{"field":"i0","type":"quantitative","scale":{"domain":[0,1,2,3,4,5,6,7,8,9],"range":[40,76,114,181,248,300,383,450,470,566]}},"y":{"field":"row","type":"ordinal","scale":{"type":"band","domain":["hdr","1","2","3","4","5","6","7","8","9"],"range":[448,583],"paddingInner":0,"paddingOuter":0}},"text":{"field":"label"}}},
 {"data":{"name":"spursL"},"transform":[{"fold":["Spur","Range","Start Freq","Stop Freq","RBW","Frequency","Amplitude","Blank","Δ Limit"],"as":["col","val"]},{"lookup":"col","from":{"data":{"name":"columns"},"key":"col","fields":["i0","i1"]}}],
  "mark":{"type":"rect","fill":"#000000","stroke":"#505050","strokeWidth":1},"encoding":{"x":{"field":"i0","type":"quantitative","scale":{"domain":[0,1,2,3,4,5,6,7,8,9],"range":[40,76,114,181,248,300,383,450,470,566]}},"x2":{"field":"i1"},"y":{"field":"Spur","type":"ordinal","scale":{"type":"band","domain":["hdr","1","2","3","4","5","6","7","8","9"],"range":[448,583],"paddingInner":0,"paddingOuter":0}}}},
 {"data":{"name":"spursL"},"transform":[{"fold":["Spur","Range","Start Freq","Stop Freq","RBW","Frequency","Amplitude","Blank","Δ Limit"],"as":["col","val"]},{"lookup":"col","from":{"data":{"name":"columns"},"key":"col","fields":["i0","i1"]}}],
  "mark":{"type":"text","align":"left","baseline":"middle","dx":2,"fontSize":9},"encoding":{"x":{"field":"i0","type":"quantitative","scale":{"domain":[0,1,2,3,4,5,6,7,8,9],"range":[40,76,114,181,248,300,383,450,470,566]}},"y":{"field":"Spur","type":"ordinal","scale":{"type":"band","domain":["hdr","1","2","3","4","5","6","7","8","9"],"range":[448,583],"paddingInner":0,"paddingOuter":0}},"text":{"field":"val"},"color":{"condition":{"test":"datum.Spur === '1'","value":"#e6e600"},"value":"#eeeeee"}}}
]},

{"layer":[
 {"data":{"name":"buttons"},"mark":{"type":"rect","fill":{"gradient":"linear","x1":0,"y1":0,"x2":0,"y2":1,"stops":[{"offset":0,"color":"#e2f4fb"},{"offset":0.07,"color":"#9bd3ea"},{"offset":0.55,"color":"#86c6e3"},{"offset":0.88,"color":"#75b6d7"},{"offset":1,"color":"#3f7db0"}]}},"encoding":{"x":{"datum":532,"type":"quantitative","scale":{"domain":[0,627],"range":[39,666]}},"x2":{"datum":627},"y":{"field":"btn","type":"nominal","scale":{"type":"band","domain":["From File...","Edit Register Names","Register 1","Register 2","Register 3","Register 4","More"],"range":[180,584],"paddingInner":0.12,"paddingOuter":0.02}}}},
 {"data":{"values":[{"btn":"From File...","t":"From File..."}]},"mark":{"type":"text","align":"right","baseline":"middle","fontSize":11,"fontWeight":"bold","color":"#0d0d0d"},"encoding":{"x":{"datum":623,"type":"quantitative","scale":{"domain":[0,627],"range":[39,666]}},"y":{"field":"btn","type":"nominal","scale":{"type":"band","domain":["From File...","Edit Register Names","Register 1","Register 2","Register 3","Register 4","More"],"range":[180,584],"paddingInner":0.12,"paddingOuter":0.02}},"text":{"field":"t"}}},
 {"data":{"values":[{"btn":"Edit Register Names","t":"Edit Register"}]},"mark":{"type":"text","align":"right","baseline":"middle","dy":-9,"fontSize":11,"fontWeight":"bold","color":"#0d0d0d"},"encoding":{"x":{"datum":616,"type":"quantitative","scale":{"domain":[0,627],"range":[39,666]}},"y":{"field":"btn","type":"nominal","scale":{"type":"band","domain":["From File...","Edit Register Names","Register 1","Register 2","Register 3","Register 4","More"],"range":[180,584],"paddingInner":0.12,"paddingOuter":0.02}},"text":{"field":"t"}}},
 {"data":{"values":[{"btn":"Edit Register Names","t":"►"}]},"mark":{"type":"text","align":"right","baseline":"middle","dy":-5,"fontSize":7,"color":"#0d0d0d"},"encoding":{"x":{"datum":625,"type":"quantitative","scale":{"domain":[0,627],"range":[39,666]}},"y":{"field":"btn","type":"nominal","scale":{"type":"band","domain":["From File...","Edit Register Names","Register 1","Register 2","Register 3","Register 4","More"],"range":[180,584],"paddingInner":0.12,"paddingOuter":0.02}},"text":{"field":"t"}}},
 {"data":{"values":[{"btn":"More","t":"More"}]},"mark":{"type":"text","align":"right","baseline":"middle","dy":-9,"fontSize":11,"fontWeight":"bold","color":"#0d0d0d"},"encoding":{"x":{"datum":623,"type":"quantitative","scale":{"domain":[0,627],"range":[39,666]}},"y":{"field":"btn","type":"nominal","scale":{"type":"band","domain":["From File...","Edit Register Names","Register 1","Register 2","Register 3","Register 4","More"],"range":[180,584],"paddingInner":0.12,"paddingOuter":0.02}},"text":{"field":"t"}}},
 {"data":{"values":[{"btn":"Edit Register Names","t":"Names"}]},"mark":{"type":"text","align":"right","baseline":"middle","dy":8,"fontSize":11,"fontWeight":"bold","color":"#0d0d0d"},"encoding":{"x":{"datum":623,"type":"quantitative","scale":{"domain":[0,627],"range":[39,666]}},"y":{"field":"btn","type":"nominal","scale":{"type":"band","domain":["From File...","Edit Register Names","Register 1","Register 2","Register 3","Register 4","More"],"range":[180,584],"paddingInner":0.12,"paddingOuter":0.02}},"text":{"field":"t"}}},
 {"data":{"values":[{"btn":"Register 1","t":"Register 1"},{"btn":"Register 2","t":"Register 2"},{"btn":"Register 3","t":"Register 3"},{"btn":"Register 4","t":"Register 4"}]},"mark":{"type":"text","align":"right","baseline":"middle","dy":-12,"fontSize":11,"fontWeight":"bold","color":"#0d0d0d"},"encoding":{"x":{"datum":623,"type":"quantitative","scale":{"domain":[0,627],"range":[39,666]}},"y":{"field":"btn","type":"nominal","scale":{"type":"band","domain":["From File...","Edit Register Names","Register 1","Register 2","Register 3","Register 4","More"],"range":[180,584],"paddingInner":0.12,"paddingOuter":0.02}},"text":{"field":"t"}}},
 {"data":{"values":[{"btn":"Register 1","t":"Last: 1/1/2018"},{"btn":"Register 2","t":"Last: 1/1/2018"},{"btn":"Register 3","t":"Last: 1/1/2018"},{"btn":"Register 4","t":"Last: 1/1/2018"}]},"mark":{"type":"text","align":"right","baseline":"middle","dy":0,"fontSize":9,"fontWeight":"bold","color":"#1a1a1a"},"encoding":{"x":{"datum":623,"type":"quantitative","scale":{"domain":[0,627],"range":[39,666]}},"y":{"field":"btn","type":"nominal","scale":{"type":"band","domain":["From File...","Edit Register Names","Register 1","Register 2","Register 3","Register 4","More"],"range":[180,584],"paddingInner":0.12,"paddingOuter":0.02}},"text":{"field":"t"}}},
 {"data":{"values":[{"btn":"Register 1","t":"6:14:25 PM"},{"btn":"Register 2","t":"6:14:27 PM"},{"btn":"Register 3","t":"6:14:26 PM"},{"btn":"Register 4","t":"6:14:22 PM"}]},"mark":{"type":"text","align":"right","baseline":"middle","dy":12,"fontSize":9,"fontWeight":"bold","color":"#1a1a1a"},"encoding":{"x":{"datum":623,"type":"quantitative","scale":{"domain":[0,627],"range":[39,666]}},"y":{"field":"btn","type":"nominal","scale":{"type":"band","domain":["From File...","Edit Register Names","Register 1","Register 2","Register 3","Register 4","More"],"range":[180,584],"paddingInner":0.12,"paddingOuter":0.02}},"text":{"field":"t"}}},
 {"data":{"values":[{"btn":"More","t":"1 of 3"}]},"mark":{"type":"text","align":"right","baseline":"middle","dy":8,"fontSize":9,"color":"#1a1a1a"},"encoding":{"x":{"datum":623,"type":"quantitative","scale":{"domain":[0,627],"range":[39,666]}},"y":{"field":"btn","type":"nominal","scale":{"type":"band","domain":["From File...","Edit Register Names","Register 1","Register 2","Register 3","Register 4","More"],"range":[180,584],"paddingInner":0.12,"paddingOuter":0.02}},"text":{"field":"t"}}}
]},

{"layer":[
 {"data":{"values":[{}]},"mark":{"type":"rect","fill":"#d4d4d4"},"encoding":{"x":{"datum":0,"type":"quantitative","scale":{"domain":[0,627],"range":[728,1355]}},"x2":{"datum":627},"y":{"datum":0,"type":"quantitative","scale":{"domain":[0,465],"range":[141,606]}},"y2":{"datum":465}}},
 {"data":{"values":[{}]},"mark":{"type":"rect","fill":{"gradient":"linear","x1":0,"y1":0,"x2":0,"y2":1,"stops":[{"offset":0,"color":"#7aa8f0"},{"offset":0.35,"color":"#3b72da"},{"offset":1,"color":"#2a5fca"}]}},"encoding":{"x":{"datum":0,"type":"quantitative","scale":{"domain":[0,627],"range":[728,1355]}},"x2":{"datum":627},"y":{"datum":0,"type":"quantitative","scale":{"domain":[0,465],"range":[141,606]}},"y2":{"datum":16}}},
 {"data":{"values":[{"t":"Agilent Spectrum Analyzer - Spurious Emissions"}]},"mark":{"type":"text","align":"left","baseline":"middle","fontSize":7.5,"fontWeight":"bold","color":"#ffffff"},"encoding":{"x":{"datum":3,"type":"quantitative","scale":{"domain":[0,627],"range":[728,1355]}},"y":{"datum":8.5,"type":"quantitative","scale":{"domain":[0,465],"range":[141,606]}},"text":{"field":"t"}}},
 {"data":{"values":[{}]},"mark":{"type":"rect","fill":"#efede4"},"encoding":{"x":{"datum":0,"type":"quantitative","scale":{"domain":[0,627],"range":[728,1355]}},"x2":{"datum":529},"y":{"datum":16,"type":"quantitative","scale":{"domain":[0,465],"range":[141,606]}},"y2":{"datum":26}}},
 {"data":{"values":[{}]},"mark":{"type":"rect","fill":"#34b34a"},"encoding":{"x":{"datum":1,"type":"quantitative","scale":{"domain":[0,627],"range":[728,1355]}},"x2":{"datum":9},"y":{"datum":17,"type":"quantitative","scale":{"domain":[0,465],"range":[141,606]}},"y2":{"datum":25}}},
 {"data":{"values":[{"t":"RF"}]},"mark":{"type":"text","align":"left","baseline":"middle","fontSize":6,"color":"#8a8a8a"},"encoding":{"x":{"datum":78,"type":"quantitative","scale":{"domain":[0,627],"range":[728,1355]}},"y":{"datum":21,"type":"quantitative","scale":{"domain":[0,465],"range":[141,606]}},"text":{"field":"t"}}},
 {"data":{"values":[{"t":"50 Ω      AC"}]},"mark":{"type":"text","align":"left","baseline":"middle","fontSize":6,"color":"#8a8a8a"},"encoding":{"x":{"datum":108,"type":"quantitative","scale":{"domain":[0,627],"range":[728,1355]}},"y":{"datum":21,"type":"quantitative","scale":{"domain":[0,465],"range":[141,606]}},"text":{"field":"t"}}},
 {"data":{"values":[{"t":"SENSE:PULSE"}]},"mark":{"type":"text","align":"left","baseline":"middle","fontSize":6,"color":"#8a8a8a"},"encoding":{"x":{"datum":254,"type":"quantitative","scale":{"domain":[0,627],"range":[728,1355]}},"y":{"datum":21,"type":"quantitative","scale":{"domain":[0,465],"range":[141,606]}},"text":{"field":"t"}}},
 {"data":{"values":[{"t":"ALIGNAUTO"}]},"mark":{"type":"text","align":"left","baseline":"middle","fontSize":6,"color":"#8a8a8a"},"encoding":{"x":{"datum":375,"type":"quantitative","scale":{"domain":[0,627],"range":[728,1355]}},"y":{"datum":21,"type":"quantitative","scale":{"domain":[0,465],"range":[141,606]}},"text":{"field":"t"}}},
 {"data":{"values":[{"t":"07:06:28 PM Sep 04, 2019"}]},"mark":{"type":"text","align":"left","baseline":"middle","fontSize":6,"color":"#333333"},"encoding":{"x":{"datum":455,"type":"quantitative","scale":{"domain":[0,627],"range":[728,1355]}},"y":{"datum":21,"type":"quantitative","scale":{"domain":[0,465],"range":[141,606]}},"text":{"field":"t"}}},
 {"data":{"values":[{}]},"mark":{"type":"rect","fill":"#f4f2e8"},"encoding":{"x":{"datum":0,"type":"quantitative","scale":{"domain":[0,627],"range":[728,1355]}},"x2":{"datum":529},"y":{"datum":26,"type":"quantitative","scale":{"domain":[0,465],"range":[141,606]}},"y2":{"datum":63}}},
 {"data":{"values":[{}]},"mark":{"type":"rect","fill":"#000000"},"encoding":{"x":{"datum":0,"type":"quantitative","scale":{"domain":[0,627],"range":[728,1355]}},"x2":{"datum":229},"y":{"datum":27,"type":"quantitative","scale":{"domain":[0,465],"range":[141,606]}},"y2":{"datum":42}}},
 {"data":{"values":[{"t":"Center Freq 13.255000000 GHz"}]},"mark":{"type":"text","align":"left","baseline":"middle","fontSize":13,"color":"#ffffff"},"encoding":{"x":{"datum":2,"type":"quantitative","scale":{"domain":[0,627],"range":[728,1355]}},"y":{"datum":34.5,"type":"quantitative","scale":{"domain":[0,465],"range":[141,606]}},"text":{"field":"t"}}},
 {"data":{"values":[{}]},"mark":{"type":"rect","fill":"#000000"},"encoding":{"x":{"datum":0,"type":"quantitative","scale":{"domain":[0,627],"range":[728,1355]}},"x2":{"datum":53},"y":{"datum":43,"type":"quantitative","scale":{"domain":[0,465],"range":[141,606]}},"y2":{"datum":60}}},
 {"data":{"values":[{"t":"PASS"}]},"mark":{"type":"text","align":"left","baseline":"middle","fontSize":13,"fontWeight":"bold","color":"#00ff00"},"encoding":{"x":{"datum":2,"type":"quantitative","scale":{"domain":[0,627],"range":[728,1355]}},"y":{"datum":51.5,"type":"quantitative","scale":{"domain":[0,465],"range":[141,606]}},"text":{"field":"t"}}},
 {"data":{"values":[{"t":"IFGain:Low"}]},"mark":{"type":"text","align":"left","baseline":"middle","fontSize":6,"color":"#555555"},"encoding":{"x":{"datum":166,"type":"quantitative","scale":{"domain":[0,627],"range":[728,1355]}},"y":{"datum":56,"type":"quantitative","scale":{"domain":[0,465],"range":[141,606]}},"text":{"field":"t"}}},
 {"data":{"values":[{"t":"Center Freq: 13.255000000 GHz"}]},"mark":{"type":"text","align":"left","baseline":"middle","fontSize":7.5,"fontWeight":"bold","color":"#222222"},"encoding":{"x":{"datum":234,"type":"quantitative","scale":{"domain":[0,627],"range":[728,1355]}},"y":{"datum":31.5,"type":"quantitative","scale":{"domain":[0,465],"range":[141,606]}},"text":{"field":"t"}}},
 {"data":{"values":[{"t":"Trig: Free Run"}]},"mark":{"type":"text","align":"left","baseline":"middle","fontSize":7.5,"fontWeight":"bold","color":"#222222"},"encoding":{"x":{"datum":234,"type":"quantitative","scale":{"domain":[0,627],"range":[728,1355]}},"y":{"datum":41.5,"type":"quantitative","scale":{"domain":[0,465],"range":[141,606]}},"text":{"field":"t"}}},
 {"data":{"values":[{"t":"#Atten: 10 dB"}]},"mark":{"type":"text","align":"left","baseline":"middle","fontSize":7.5,"fontWeight":"bold","color":"#222222"},"encoding":{"x":{"datum":234,"type":"quantitative","scale":{"domain":[0,627],"range":[728,1355]}},"y":{"datum":51.5,"type":"quantitative","scale":{"domain":[0,465],"range":[141,606]}},"text":{"field":"t"}}},
 {"data":{"values":[{"t":"Radio Std: None"}]},"mark":{"type":"text","align":"left","baseline":"middle","fontSize":7.5,"fontWeight":"bold","color":"#222222"},"encoding":{"x":{"datum":431,"type":"quantitative","scale":{"domain":[0,627],"range":[728,1355]}},"y":{"datum":31.5,"type":"quantitative","scale":{"domain":[0,465],"range":[141,606]}},"text":{"field":"t"}}},
 {"data":{"values":[{"t":"Radio Device: BTS"}]},"mark":{"type":"text","align":"left","baseline":"middle","fontSize":7.5,"fontWeight":"bold","color":"#222222"},"encoding":{"x":{"datum":431,"type":"quantitative","scale":{"domain":[0,627],"range":[728,1355]}},"y":{"datum":52,"type":"quantitative","scale":{"domain":[0,465],"range":[141,606]}},"text":{"field":"t"}}},
 {"data":{"values":[{}]},"mark":{"type":"rect","fill":"#000000","stroke":"#1ef01e","strokeWidth":2},"encoding":{"x":{"datum":1,"type":"quantitative","scale":{"domain":[0,627],"range":[728,1355]}},"x2":{"datum":528},"y":{"datum":64,"type":"quantitative","scale":{"domain":[0,465],"range":[141,606]}},"y2":{"datum":302}}},
 {"data":{"values":[{"t":"Ref Offset 26.4 dB"}]},"mark":{"type":"text","align":"left","baseline":"middle","fontSize":9,"color":"#f0f0f0"},"encoding":{"x":{"datum":77,"type":"quantitative","scale":{"domain":[0,627],"range":[728,1355]}},"y":{"datum":78,"type":"quantitative","scale":{"domain":[0,465],"range":[141,606]}},"text":{"field":"t"}}},
 {"data":{"values":[{"t":"Ref 30.00 dBm"}]},"mark":{"type":"text","align":"left","baseline":"middle","fontSize":12,"fontWeight":"bold","color":"#ffffff"},"encoding":{"x":{"datum":77,"type":"quantitative","scale":{"domain":[0,627],"range":[728,1355]}},"y":{"datum":90,"type":"quantitative","scale":{"domain":[0,465],"range":[141,606]}},"text":{"field":"t"}}},
 {"data":{"values":[{"t":"10 dB/div"}]},"mark":{"type":"text","align":"left","baseline":"middle","fontSize":9,"color":"#a0a0a0"},"encoding":{"x":{"datum":3,"type":"quantitative","scale":{"domain":[0,627],"range":[728,1355]}},"y":{"datum":92,"type":"quantitative","scale":{"domain":[0,465],"range":[141,606]}},"text":{"field":"t"}}},
 {"data":{"values":[{"t":"Log"}]},"mark":{"type":"text","align":"left","baseline":"middle","fontSize":8.5,"fontWeight":"bold","color":"#c8c8c8"},"encoding":{"x":{"datum":3,"type":"quantitative","scale":{"domain":[0,627],"range":[728,1355]}},"y":{"datum":100.5,"type":"quantitative","scale":{"domain":[0,465],"range":[141,606]}},"text":{"field":"t"}}},
 {"data":{"values":[{"t":"Start  2.36 GHz"}]},"mark":{"type":"text","align":"left","baseline":"middle","fontSize":11,"fontWeight":"bold","color":"#ffffff"},"encoding":{"x":{"datum":3,"type":"quantitative","scale":{"domain":[0,627],"range":[728,1355]}},"y":{"datum":280,"type":"quantitative","scale":{"domain":[0,465],"range":[141,606]}},"text":{"field":"t"}}},
 {"data":{"values":[{"t":"Stop 2.4 GHz"}]},"mark":{"type":"text","align":"right","baseline":"middle","fontSize":11,"fontWeight":"bold","color":"#ffffff"},"encoding":{"x":{"datum":526,"type":"quantitative","scale":{"domain":[0,627],"range":[728,1355]}},"y":{"datum":280,"type":"quantitative","scale":{"domain":[0,465],"range":[141,606]}},"text":{"field":"t"}}},
 {"data":{"values":[{}]},"mark":{"type":"rect","fill":"#8a8a8a"},"encoding":{"x":{"datum":1,"type":"quantitative","scale":{"domain":[0,627],"range":[728,1355]}},"x2":{"datum":528},"y":{"datum":305,"type":"quantitative","scale":{"domain":[0,465],"range":[141,606]}},"y2":{"datum":450}}},
 {"data":{"values":[{}]},"mark":{"type":"rect","fill":"#e4e4e4","stroke":"#b0b0b0","strokeWidth":1},"encoding":{"x":{"datum":0,"type":"quantitative","scale":{"domain":[0,627],"range":[728,1355]}},"x2":{"datum":627},"y":{"datum":452,"type":"quantitative","scale":{"domain":[0,465],"range":[141,606]}},"y2":{"datum":465}}},
 {"data":{"values":[{}]},"mark":{"type":"rect","fill":"#f1c022"},"encoding":{"x":{"datum":1,"type":"quantitative","scale":{"domain":[0,627],"range":[728,1355]}},"x2":{"datum":18},"y":{"datum":453,"type":"quantitative","scale":{"domain":[0,465],"range":[141,606]}},"y2":{"datum":464}}},
 {"data":{"values":[{"t":"MSG"}]},"mark":{"type":"text","align":"center","baseline":"middle","fontSize":5.5,"color":"#7d5f00"},"encoding":{"x":{"datum":9.5,"type":"quantitative","scale":{"domain":[0,627],"range":[728,1355]}},"y":{"datum":458.5,"type":"quantitative","scale":{"domain":[0,465],"range":[141,606]}},"text":{"field":"t"}}},
 {"data":{"values":[{}]},"mark":{"type":"rule","color":"#b0b0b0"},"encoding":{"x":{"datum":397,"type":"quantitative","scale":{"domain":[0,627],"range":[728,1355]}},"y":{"datum":452,"type":"quantitative","scale":{"domain":[0,465],"range":[141,606]}},"y2":{"datum":465}}},
 {"data":{"values":[{}]},"mark":{"type":"rule","color":"#b0b0b0"},"encoding":{"x":{"datum":427,"type":"quantitative","scale":{"domain":[0,627],"range":[728,1355]}},"y":{"datum":452,"type":"quantitative","scale":{"domain":[0,465],"range":[141,606]}},"y2":{"datum":465}}},
 {"data":{"values":[{"t":"STATUS"}]},"mark":{"type":"text","align":"left","baseline":"middle","fontSize":6,"color":"#707070"},"encoding":{"x":{"datum":400,"type":"quantitative","scale":{"domain":[0,627],"range":[728,1355]}},"y":{"datum":458.5,"type":"quantitative","scale":{"domain":[0,465],"range":[141,606]}},"text":{"field":"t"}}},
 {"data":{"values":[{}]},"mark":{"type":"rect","fill":"#1f4f8f"},"encoding":{"x":{"datum":531,"type":"quantitative","scale":{"domain":[0,627],"range":[728,1355]}},"x2":{"datum":627},"y":{"datum":16,"type":"quantitative","scale":{"domain":[0,465],"range":[141,606]}},"y2":{"datum":452}}},
 {"data":{"values":[{}]},"mark":{"type":"rect","fill":"#2d5e9f"},"encoding":{"x":{"datum":532,"type":"quantitative","scale":{"domain":[0,627],"range":[728,1355]}},"x2":{"datum":627},"y":{"datum":17,"type":"quantitative","scale":{"domain":[0,465],"range":[141,606]}},"y2":{"datum":39}}},
 {"data":{"values":[{"t":"Recall State"}]},"mark":{"type":"text","align":"center","baseline":"middle","fontSize":8.5,"color":"#f4f8ff"},"encoding":{"x":{"datum":579.5,"type":"quantitative","scale":{"domain":[0,627],"range":[728,1355]}},"y":{"datum":28,"type":"quantitative","scale":{"domain":[0,465],"range":[141,606]}},"text":{"field":"t"}}}
]},

{"layer":[
 {"data":{"name":"gridFreqR"},"mark":{"type":"rule","color":"#5e5e5e","strokeWidth":1},"encoding":{"x":{"field":"f","type":"quantitative","scale":{"domain":[2.36,2.4],"range":[752,1252]}},"y":{"datum":-70,"type":"quantitative","scale":{"domain":[-70,30],"range":[411,238]}},"y2":{"datum":30}}},
 {"data":{"name":"gridDb"},"mark":{"type":"rule","color":"#5e5e5e","strokeWidth":1},"encoding":{"y":{"field":"db","type":"quantitative","scale":{"domain":[-70,30],"range":[411,238]}},"x":{"datum":2.36,"type":"quantitative","scale":{"domain":[2.36,2.4],"range":[752,1252]}},"x2":{"datum":2.4}}},
 {"data":{"values":[{}]},"mark":{"type":"rect","fill":"transparent","stroke":"#9a9a9a","strokeWidth":1},"encoding":{"x":{"datum":2.36,"type":"quantitative","scale":{"domain":[2.36,2.4],"range":[752,1252]}},"x2":{"datum":2.4},"y":{"datum":-70,"type":"quantitative","scale":{"domain":[-70,30],"range":[411,238]}},"y2":{"datum":30}}},
 {"data":{"name":"dbLabels"},"mark":{"type":"text","align":"right","baseline":"middle","dx":-2,"fontSize":8,"color":"#8f8f8f"},"encoding":{"x":{"datum":2.36,"type":"quantitative","scale":{"domain":[2.36,2.4],"range":[752,1252]}},"y":{"field":"db","type":"quantitative","scale":{"domain":[-70,30],"range":[411,238]}},"text":{"field":"label"}}},
 {"data":{"name":"limitR"},"mark":{"type":"line","interpolate":"step-after","color":"#169c16","strokeWidth":1.5},"encoding":{"x":{"field":"f","type":"quantitative","scale":{"domain":[2.36,2.4],"range":[752,1252]}},"y":{"field":"lim","type":"quantitative","scale":{"domain":[-70,30],"range":[411,238]}}}},
 {"data":{"name":"traceR"},"mark":{"type":"line","color":"#ffff00","strokeWidth":1.8,"strokeJoin":"bevel"},"encoding":{"x":{"field":"f","type":"quantitative","scale":{"domain":[2.36,2.4],"range":[752,1252]}},"y":{"field":"dbm","type":"quantitative","scale":{"domain":[-70,30],"range":[411,238]}}}}
]},

{"layer":[
 {"data":{"name":"columns"},"mark":{"type":"rect","fill":"#000000","stroke":"#505050","strokeWidth":1},"encoding":{"x":{"field":"i0","type":"quantitative","scale":{"domain":[0,1,2,3,4,5,6,7,8,9],"range":[729,765,803,870,937,989,1072,1139,1159,1255]}},"x2":{"field":"i1"},"y":{"field":"row","type":"ordinal","scale":{"type":"band","domain":["hdr","1","2","3","4","5","6","7","8","9"],"range":[448,583],"paddingInner":0,"paddingOuter":0}}}},
 {"data":{"name":"columns"},"mark":{"type":"text","align":"left","baseline":"middle","dx":3,"fontSize":9,"fontWeight":"bold","color":"#ffffff"},"encoding":{"x":{"field":"i0","type":"quantitative","scale":{"domain":[0,1,2,3,4,5,6,7,8,9],"range":[729,765,803,870,937,989,1072,1139,1159,1255]}},"y":{"field":"row","type":"ordinal","scale":{"type":"band","domain":["hdr","1","2","3","4","5","6","7","8","9"],"range":[448,583],"paddingInner":0,"paddingOuter":0}},"text":{"field":"label"}}},
 {"data":{"name":"spursR"},"transform":[{"fold":["Spur","Range","Start Freq","Stop Freq","RBW","Frequency","Amplitude","Blank","Δ Limit"],"as":["col","val"]},{"lookup":"col","from":{"data":{"name":"columns"},"key":"col","fields":["i0","i1"]}}],
  "mark":{"type":"rect","fill":"#000000","stroke":"#505050","strokeWidth":1},"encoding":{"x":{"field":"i0","type":"quantitative","scale":{"domain":[0,1,2,3,4,5,6,7,8,9],"range":[729,765,803,870,937,989,1072,1139,1159,1255]}},"x2":{"field":"i1"},"y":{"field":"Spur","type":"ordinal","scale":{"type":"band","domain":["hdr","1","2","3","4","5","6","7","8","9"],"range":[448,583],"paddingInner":0,"paddingOuter":0}}}},
 {"data":{"name":"spursR"},"transform":[{"fold":["Spur","Range","Start Freq","Stop Freq","RBW","Frequency","Amplitude","Blank","Δ Limit"],"as":["col","val"]},{"lookup":"col","from":{"data":{"name":"columns"},"key":"col","fields":["i0","i1"]}}],
  "mark":{"type":"text","align":"left","baseline":"middle","dx":2,"fontSize":9},"encoding":{"x":{"field":"i0","type":"quantitative","scale":{"domain":[0,1,2,3,4,5,6,7,8,9],"range":[729,765,803,870,937,989,1072,1139,1159,1255]}},"y":{"field":"Spur","type":"ordinal","scale":{"type":"band","domain":["hdr","1","2","3","4","5","6","7","8","9"],"range":[448,583],"paddingInner":0,"paddingOuter":0}},"text":{"field":"val"},"color":{"condition":{"test":"datum.Spur === '1'","value":"#e6e600"},"value":"#eeeeee"}}}
]},

{"layer":[
 {"data":{"name":"buttons"},"mark":{"type":"rect","fill":{"gradient":"linear","x1":0,"y1":0,"x2":0,"y2":1,"stops":[{"offset":0,"color":"#e2f4fb"},{"offset":0.07,"color":"#9bd3ea"},{"offset":0.55,"color":"#86c6e3"},{"offset":0.88,"color":"#75b6d7"},{"offset":1,"color":"#3f7db0"}]}},"encoding":{"x":{"datum":532,"type":"quantitative","scale":{"domain":[0,627],"range":[728,1355]}},"x2":{"datum":627},"y":{"field":"btn","type":"nominal","scale":{"type":"band","domain":["From File...","Edit Register Names","Register 1","Register 2","Register 3","Register 4","More"],"range":[180,584],"paddingInner":0.12,"paddingOuter":0.02}}}},
 {"data":{"values":[{"btn":"From File...","t":"From File..."}]},"mark":{"type":"text","align":"right","baseline":"middle","fontSize":11,"fontWeight":"bold","color":"#0d0d0d"},"encoding":{"x":{"datum":623,"type":"quantitative","scale":{"domain":[0,627],"range":[728,1355]}},"y":{"field":"btn","type":"nominal","scale":{"type":"band","domain":["From File...","Edit Register Names","Register 1","Register 2","Register 3","Register 4","More"],"range":[180,584],"paddingInner":0.12,"paddingOuter":0.02}},"text":{"field":"t"}}},
 {"data":{"values":[{"btn":"Edit Register Names","t":"Edit Register"}]},"mark":{"type":"text","align":"right","baseline":"middle","dy":-9,"fontSize":11,"fontWeight":"bold","color":"#0d0d0d"},"encoding":{"x":{"datum":616,"type":"quantitative","scale":{"domain":[0,627],"range":[728,1355]}},"y":{"field":"btn","type":"nominal","scale":{"type":"band","domain":["From File...","Edit Register Names","Register 1","Register 2","Register 3","Register 4","More"],"range":[180,584],"paddingInner":0.12,"paddingOuter":0.02}},"text":{"field":"t"}}},
 {"data":{"values":[{"btn":"Edit Register Names","t":"►"}]},"mark":{"type":"text","align":"right","baseline":"middle","dy":-5,"fontSize":7,"color":"#0d0d0d"},"encoding":{"x":{"datum":625,"type":"quantitative","scale":{"domain":[0,627],"range":[728,1355]}},"y":{"field":"btn","type":"nominal","scale":{"type":"band","domain":["From File...","Edit Register Names","Register 1","Register 2","Register 3","Register 4","More"],"range":[180,584],"paddingInner":0.12,"paddingOuter":0.02}},"text":{"field":"t"}}},
 {"data":{"values":[{"btn":"More","t":"More"}]},"mark":{"type":"text","align":"right","baseline":"middle","dy":-9,"fontSize":11,"fontWeight":"bold","color":"#0d0d0d"},"encoding":{"x":{"datum":623,"type":"quantitative","scale":{"domain":[0,627],"range":[728,1355]}},"y":{"field":"btn","type":"nominal","scale":{"type":"band","domain":["From File...","Edit Register Names","Register 1","Register 2","Register 3","Register 4","More"],"range":[180,584],"paddingInner":0.12,"paddingOuter":0.02}},"text":{"field":"t"}}},
 {"data":{"values":[{"btn":"Edit Register Names","t":"Names"}]},"mark":{"type":"text","align":"right","baseline":"middle","dy":8,"fontSize":11,"fontWeight":"bold","color":"#0d0d0d"},"encoding":{"x":{"datum":623,"type":"quantitative","scale":{"domain":[0,627],"range":[728,1355]}},"y":{"field":"btn","type":"nominal","scale":{"type":"band","domain":["From File...","Edit Register Names","Register 1","Register 2","Register 3","Register 4","More"],"range":[180,584],"paddingInner":0.12,"paddingOuter":0.02}},"text":{"field":"t"}}},
 {"data":{"values":[{"btn":"Register 1","t":"Register 1"},{"btn":"Register 2","t":"Register 2"},{"btn":"Register 3","t":"Register 3"},{"btn":"Register 4","t":"Register 4"}]},"mark":{"type":"text","align":"right","baseline":"middle","dy":-12,"fontSize":11,"fontWeight":"bold","color":"#0d0d0d"},"encoding":{"x":{"datum":623,"type":"quantitative","scale":{"domain":[0,627],"range":[728,1355]}},"y":{"field":"btn","type":"nominal","scale":{"type":"band","domain":["From File...","Edit Register Names","Register 1","Register 2","Register 3","Register 4","More"],"range":[180,584],"paddingInner":0.12,"paddingOuter":0.02}},"text":{"field":"t"}}},
 {"data":{"values":[{"btn":"Register 1","t":"Last: 1/1/2018"},{"btn":"Register 2","t":"Last: 1/1/2018"},{"btn":"Register 3","t":"Last: 1/1/2018"},{"btn":"Register 4","t":"Last: 1/1/2018"}]},"mark":{"type":"text","align":"right","baseline":"middle","dy":0,"fontSize":9,"fontWeight":"bold","color":"#1a1a1a"},"encoding":{"x":{"datum":623,"type":"quantitative","scale":{"domain":[0,627],"range":[728,1355]}},"y":{"field":"btn","type":"nominal","scale":{"type":"band","domain":["From File...","Edit Register Names","Register 1","Register 2","Register 3","Register 4","More"],"range":[180,584],"paddingInner":0.12,"paddingOuter":0.02}},"text":{"field":"t"}}},
 {"data":{"values":[{"btn":"Register 1","t":"6:14:25 PM"},{"btn":"Register 2","t":"6:14:27 PM"},{"btn":"Register 3","t":"6:14:26 PM"},{"btn":"Register 4","t":"6:14:22 PM"}]},"mark":{"type":"text","align":"right","baseline":"middle","dy":12,"fontSize":9,"fontWeight":"bold","color":"#1a1a1a"},"encoding":{"x":{"datum":623,"type":"quantitative","scale":{"domain":[0,627],"range":[728,1355]}},"y":{"field":"btn","type":"nominal","scale":{"type":"band","domain":["From File...","Edit Register Names","Register 1","Register 2","Register 3","Register 4","More"],"range":[180,584],"paddingInner":0.12,"paddingOuter":0.02}},"text":{"field":"t"}}},
 {"data":{"values":[{"btn":"More","t":"1 of 3"}]},"mark":{"type":"text","align":"right","baseline":"middle","dy":8,"fontSize":9,"color":"#1a1a1a"},"encoding":{"x":{"datum":623,"type":"quantitative","scale":{"domain":[0,627],"range":[728,1355]}},"y":{"field":"btn","type":"nominal","scale":{"type":"band","domain":["From File...","Edit Register Names","Register 1","Register 2","Register 3","Register 4","More"],"range":[180,584],"paddingInner":0.12,"paddingOuter":0.02}},"text":{"field":"t"}}}
]}
]
}
